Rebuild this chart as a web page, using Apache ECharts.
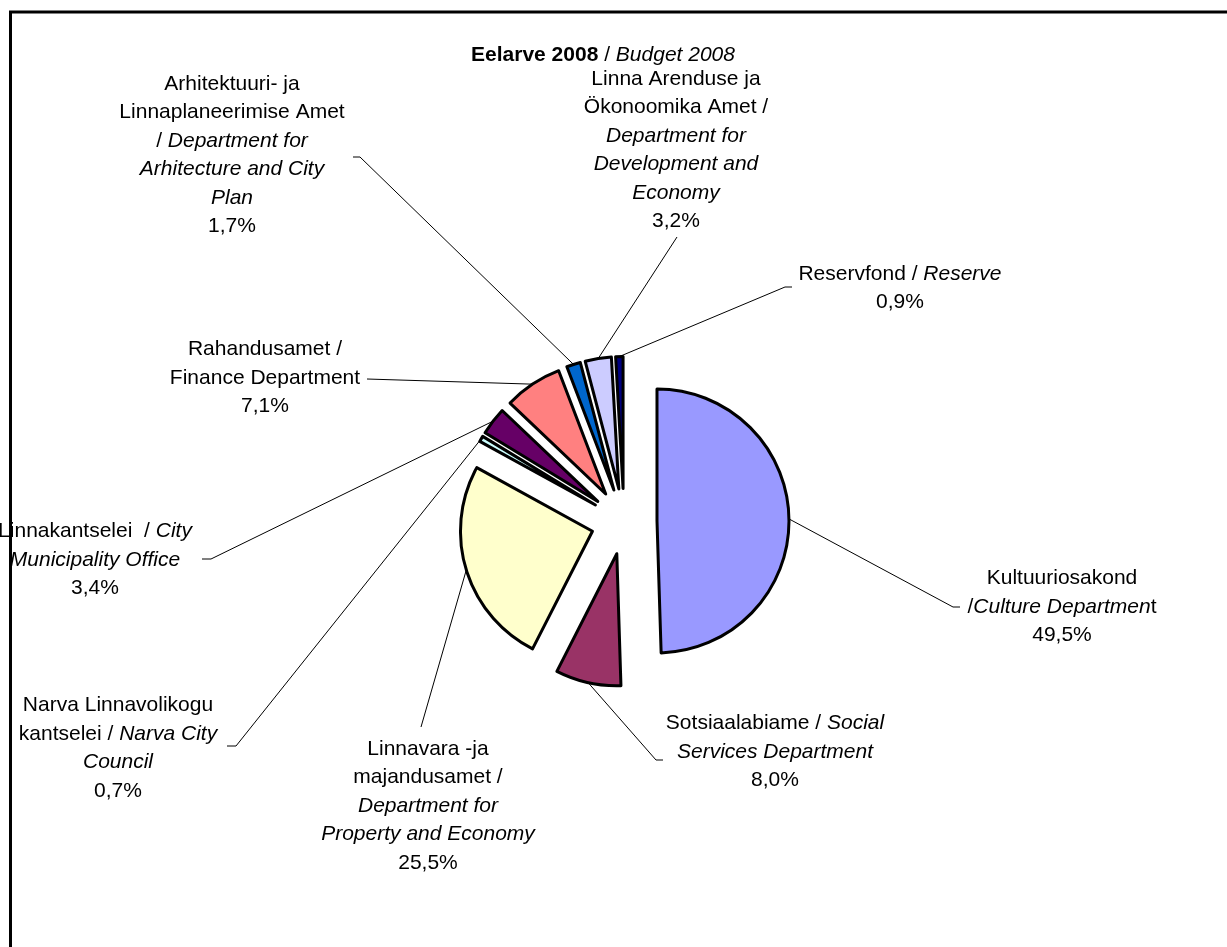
<!DOCTYPE html>
<html>
<head>
<meta charset="utf-8">
<script src="https://cdn.jsdelivr.net/npm/echarts@6/dist/echarts.min.js"></script>
<style>
  html, body { margin: 0; padding: 0; background: #fff; }
  #chart { width: 1227px; height: 947px; }
</style>
</head>
<body>
<div id="chart"></div>
<script>
// Eelarve 2008 / Budget 2008 - share of budget by department (%)
const categories = [
  'Kultuuriosakond',
  'Sotsiaalabiame',
  'Linnavara -ja majandusamet',
  'Narva Linnavolikogu kantselei',
  'Linnakantselei',
  'Rahandusamet',
  'Arhitektuuri- ja Linnaplaneerimise Amet',
  'Linna Arenduse ja Ökonoomika Amet',
  'Reservfond'
];
const shares = [49.5, 8.0, 25.5, 0.7, 3.4, 7.1, 1.7, 3.2, 0.9];

// label text (Estonian / {i|English}), percent appended below
const labelTexts = [
  'Kultuuriosakond\n/{i|Culture Departmen}t',
  'Sotsiaalabiame / {i|Social}\n{i|Services Department}',
  'Linnavara -ja\nmajandusamet /\n{i|Department for}\n{i|Property and Economy}',
  'Narva Linnavolikogu\nkantselei / {i|Narva City}\n{i|Council}',
  'Linnakantselei  / {i|City}\n{i|Municipality Office}',
  'Rahandusamet /\nFinance Department',
  'Arhitektuuri- ja\nLinnaplaneerimise Amet\n/ {i|Department for}\n{i|Arhitecture and City}\n{i|Plan}',
  'Linna Arenduse ja\nÖkonoomika Amet /\n{i|Department for}\n{i|Development and}\n{i|Economy}',
  'Reservfond / {i|Reserve}'
];

const colors = ['#9999FF', '#993366', '#FFFFCC', '#CCFFFF', '#660066', '#FF8080', '#0066CC', '#CCCCFF', '#000080'];

// where the label blocks sit and where their leader lines end
const labelPos = [
  [1062, 607], [775, 752], [428, 806], [118, 748], [95, 560],
  [265, 378], [232, 155], [676, 150], [900, 288]
];
const leaderEnds = [
  [[953, 607], [960, 607]],
  [[656, 760], [663, 760]],
  [[421, 727]],
  [[236, 746], [227, 746]],
  [[211, 559], [202, 559]],
  [[367, 379]],
  [[360, 157], [353, 157]],
  [[677, 237]],
  [[785, 287], [792, 287]]
];

const cx = 624, cy = 521.5, R = 132, explode = 33;
const total = shares.reduce((a, b) => a + b, 0);

// direction of the middle of slice i (clockwise from 12 o'clock)
function midDir(i) {
  let before = 0;
  for (let k = 0; k < i; k++) before += shares[k];
  const ang = (before + shares[i] / 2) / total * 2 * Math.PI;
  return [Math.sin(ang), -Math.cos(ang)];
}

const font = 'Liberation Sans, Arial, sans-serif';

// one pie per slice: same data, only slice i drawn, pushed out along its middle
const series = categories.map((_, i) => {
  const d = midDir(i);
  const c = [cx + explode * d[0], cy + explode * d[1]];
  return {
    type: 'pie',
    center: c,
    radius: R,
    startAngle: 90,
    clockwise: true,
    avoidLabelOverlap: false,
    emphasis: { disabled: true },
    data: categories.map((name, k) => ({
      name: name,
      value: shares[k],
      itemStyle: k === i
        ? { color: colors[k], borderColor: '#000', borderWidth: 3 }
        : { color: 'rgba(0,0,0,0)', borderWidth: 0 },
      label: { show: k === i },
      labelLine: { show: k === i }
    })),
    label: {
      position: 'outer',
      alignTo: 'none',
      fontFamily: font,
      fontSize: 21,
      lineHeight: 28.5,
      color: '#000',
      align: 'center',
      formatter: p => labelTexts[p.dataIndex] + '\n' + p.value.toFixed(1).replace('.', ',') + '%',
      rich: {
        i: { fontFamily: font, fontSize: 21, lineHeight: 28.5, fontStyle: 'italic', color: '#000' }
      }
    },
    labelLine: {
      lineStyle: { color: '#000', width: 1 }
    },
    labelLayout: function (params) {
      const k = params.dataIndex;
      if (k !== i) return {};
      const rim = [c[0] + R * d[0], c[1] + R * d[1]];
      return {
        x: labelPos[k][0],
        y: labelPos[k][1],
        align: 'center',
        verticalAlign: 'middle',
        labelLinePoints: [rim].concat(leaderEnds[k])
      };
    }
  };
});

const chart = echarts.init(document.getElementById('chart'));

chart.setOption({
  animation: false,
  backgroundColor: '#fff',
  title: {
    text: '{b|Eelarve 2008} / {i|Budget 2008}',
    left: 598,
    top: 40,
    textAlign: 'center',
    textStyle: {
      fontFamily: font,
      fontSize: 21,
      fontWeight: 'normal',
      color: '#000',
      rich: {
        b: { fontFamily: font, fontSize: 21, fontWeight: 'bold', color: '#000' },
        i: { fontFamily: font, fontSize: 21, fontStyle: 'italic', color: '#000' }
      }
    }
  },
  graphic: [{
    type: 'rect',
    z: 100,
    silent: true,
    shape: { x: 10.5, y: 12, width: 1260, height: 980 },
    style: { fill: 'none', stroke: '#000', lineWidth: 3 }
  }],
  series: series
});
</script>
</body>
</html>
